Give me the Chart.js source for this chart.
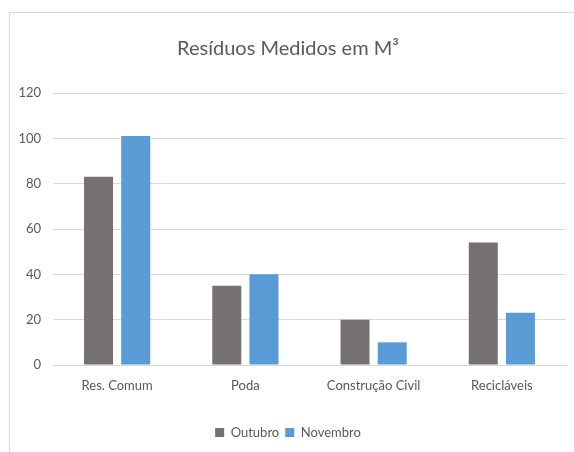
<!DOCTYPE html>
<html>
<head>
<meta charset="utf-8">
<script src="https://cdn.jsdelivr.net/npm/chart.js@4"></script>
<style>
  body { margin: 0; background: #fff; }
  #box { position: absolute; left: 9px; top: 12px; width: 564px; height: 439px; border: 1px solid #d9d9d9; border-right: none; border-bottom: none; }
</style>
</head>
<body>
<div id="box"><canvas id="myChart" width="564" height="439"></canvas></div>
<script>
var categorias = ['Res. Comum', 'Poda', 'Construção Civil', 'Recicláveis'];
var outubro = [83, 35, 20, 54];
var novembro = [101, 40, 10, 23];
var yTicks = [0, 20, 40, 60, 80, 100, 120];

var fonte = "Lato, 'Open Sans', sans-serif";
var cinza = '#595959';

var ctx = document.getElementById('myChart').getContext('2d');
var myChart = new Chart(ctx, {
    type: 'bar',
    data: {
        labels: categorias,
        datasets: [{
            label: 'Outubro',
            data: outubro,
            backgroundColor: '#767171'
        }, {
            label: 'Novembro',
            data: novembro,
            backgroundColor: '#5B9BD5'
        }]
    },
    options: {
        responsive: false,
        animation: false,
        barPercentage: 0.78,
        categoryPercentage: 0.58,
        layout: { padding: { left: 0, right: 8, top: 0, bottom: 3 } },
        plugins: {
            title: {
                display: true,
                text: 'Resíduos Medidos em M³',
                color: cinza,
                font: { family: fonte, size: 20, weight: 'normal' },
                padding: { top: 24, bottom: 32 }
            },
            legend: {
                position: 'bottom',
                labels: {
                    color: cinza,
                    font: { family: fonte, size: 13 },
                    boxWidth: 9,
                    boxHeight: 9,
                    padding: 6
                }
            },
            tooltip: { enabled: false }
        },
        scales: {
            x: {
                afterFit: function (s) { s.height = 55; },
                grid: { display: false },
                border: { color: '#d9d9d9' },
                ticks: { color: cinza, font: { family: fonte, size: 13 }, padding: 5 }
            },
            y: {
                min: 0,
                max: 120,
                afterFit: function (s) { s.width = 43; },
                afterBuildTicks: function (s) { s.ticks = yTicks.map(v => ({ value: v })); },
                grid: { color: '#d9d9d9', drawTicks: false },
                border: { display: false },
                ticks: { color: cinza, font: { family: fonte, size: 13 }, padding: 12 }
            }
        }
    }
});
</script>
</body>
</html>
